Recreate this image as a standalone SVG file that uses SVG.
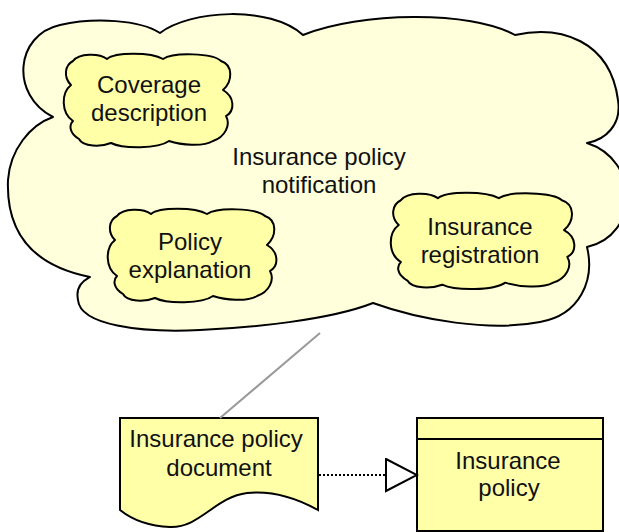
<svg xmlns="http://www.w3.org/2000/svg" width="619" height="532" viewBox="0 0 619 532">
<style>
.big{fill:#ffffdc;stroke:#000;stroke-width:2;stroke-linejoin:round}
.sm{fill:#ffffa8;stroke:#000;stroke-width:2;stroke-linejoin:round}
.box{fill:#ffffa8;stroke:#000;stroke-width:2}
.t{font-family:"Liberation Sans",Arial,sans-serif;font-size:24px;fill:#111;text-anchor:middle}
</style>
<defs>
<path id="cloud" vector-effect="non-scaling-stroke" d="M 8,32 C 0,24 2,12 10,8 C 16,0 36,0 44,6 C 52,-1 88,-1 100,6 C 110,-1 150,0 158,8 C 170,12 170,28 160,37 C 172,44 172,58 163,63 C 168,72 162,84 150,88 C 140,94 118,92 106,88 C 95,96 60,96 48,90 C 38,94 20,94 16,86 C 6,80 6,72 10,68 C -2,60 -2,40 8,32 Z"/>
<marker id="tri" markerUnits="userSpaceOnUse" markerWidth="34" markerHeight="36" refX="32" refY="17" orient="auto" viewBox="0 0 34 36">
<path d="M 1,1 L 32,17 L 1,33 Z" fill="#fff" stroke="#000" stroke-width="2" stroke-linejoin="miter"/>
</marker>
</defs>
<g id="notification">
<path class="big" d="M 53,117 C 10,95 15,35 60,25 C 95,17 140,20 160,33 C 190,10 270,5 303,35 C 360,12 470,10 515,35 C 560,25 610,40 618,100 C 622,125 605,140 587,143 C 640,160 640,235 587,247 C 595,280 580,315 540,322 C 490,332 420,320 373,303 C 330,320 250,328 200,330 C 140,333 80,325 78,300 C 75,285 85,280 90,277 C 30,265 6,230 8,180 C 10,150 30,125 53,117 Z"/>
<text class="t" x="319" y="165">Insurance policy</text>
<text class="t" x="319" y="193">notification</text>
</g>
<g id="coverage">
<use href="#cloud" class="sm" transform="translate(63,53)"/>
<text class="t" x="149" y="93">Coverage</text>
<text class="t" x="149" y="121">description</text>
</g>
<g id="explanation">
<use href="#cloud" class="sm" transform="translate(107,208)"/>
<text class="t" x="190" y="250">Policy</text>
<text class="t" x="190" y="278">explanation</text>
</g>
<g id="registration">
<use href="#cloud" class="sm" transform="translate(390,192) scale(1.088,1.03)"/>
<text class="t" x="480" y="235">Insurance</text>
<text class="t" x="480" y="263">registration</text>
</g>
<g id="document">
<path class="box" d="M 120,418 L 318,418 L 318,510 C 300,500 275,490 247,493 C 215,497 200,528 170,527 C 145,526 130,518 120,510 Z"/>
<text class="t" x="216" y="447">Insurance policy</text>
<text class="t" x="219" y="476">document</text>
</g>
<g id="policy">
<rect class="box" x="417" y="418" width="186" height="113"/>
<line x1="417" y1="439" x2="603" y2="439" stroke="#000" stroke-width="2"/>
<text class="t" x="508" y="469">Insurance</text>
<text class="t" x="509" y="496">policy</text>
</g>
<g id="connectors">
<line x1="320" y1="333" x2="220" y2="418" stroke="#999" stroke-width="2"/>
<line x1="319" y1="475" x2="417" y2="475" stroke="#000" stroke-width="2" stroke-dasharray="2,2" marker-end="url(#tri)"/>
</g>
</svg>
